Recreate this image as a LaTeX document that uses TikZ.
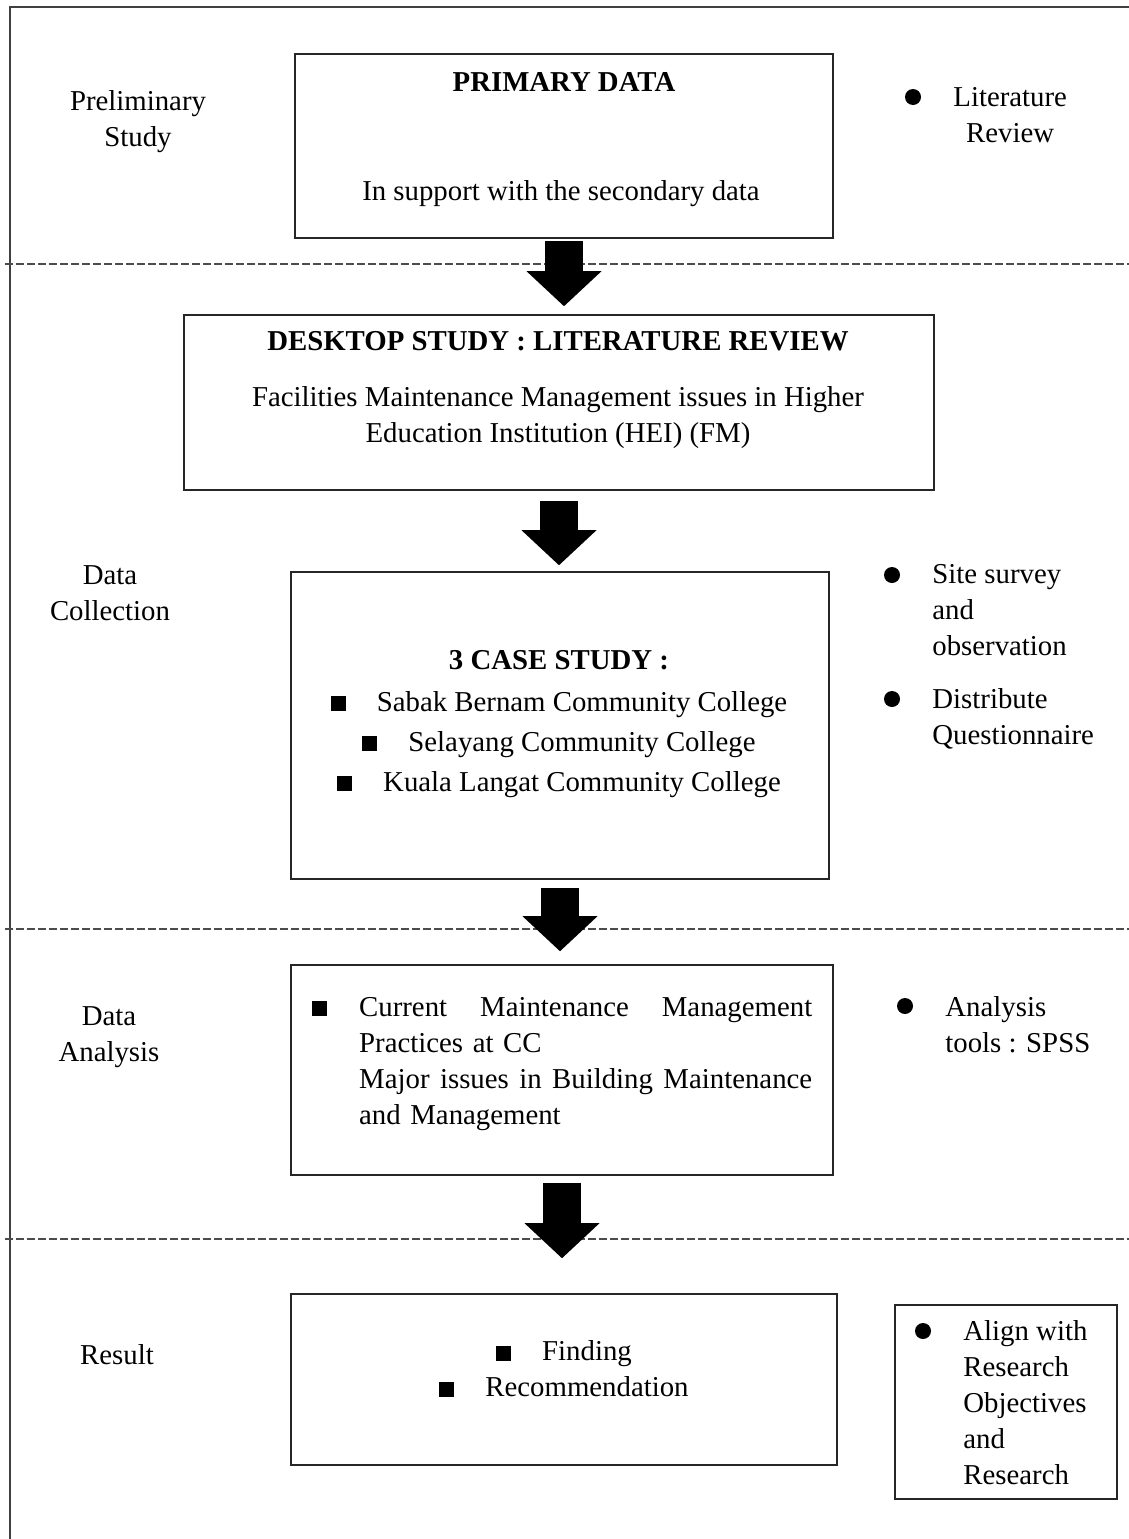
\documentclass[tikz,border=0pt]{standalone}
\usepackage{fontspec}
\setmainfont{Liberation Serif}
\usetikzlibrary{positioning,arrows.meta}

\newcommand{\sqbul}{\rule{15pt}{15pt}\hspace{31pt}}

\begin{document}
\begin{tikzpicture}[x=1pt, y=-1pt,
  every node/.style={inner sep=0pt, font=\fontsize{28.8}{36}\selectfont},
  main/.style={draw=black!85, line width=1.6pt},
  dot/.style={circle, fill, minimum size=16pt},
  bigarrow/.style={line width=38pt, -{Triangle[length=35pt, width=75pt, line width=0pt]}},
  sep/.style={draw=black!70, line width=1.8pt, dash pattern=on 8pt off 3pt}]
\useasboundingbox (0,0) rectangle (1129,1539);
% frame and separators
\draw[black!75, line width=2pt] (1129,7) -- (10,7) -- (10,1539);
\draw[sep] (5,264) -- (1129,264);
\draw[sep] (5,929) -- (1129,929);
\draw[sep] (5,1239) -- (1129,1239);

% boxes
\node[main, minimum width=538, minimum height=184] (1) at (564,146) {};
\node (1a) at (564,82) {\textbf{PRIMARY DATA}};
\node (1b) at (561,194) {In support with the secondary data};

\node[main, minimum width=750, minimum height=175] (2) at (559,402.5) {};
\node (2a) at (558,341) {\textbf{DESKTOP STUDY : LITERATURE REVIEW}};
\node[align=center] (2b) at (558,418) {Facilities Maintenance Management issues in Higher\\Education Institution (HEI) (FM)};

\node[main, minimum width=538, minimum height=307] (3) at (560,725.5) {};
\node[align=center, font=\fontsize{28.8}{40}\selectfont] (3a) at (559,724)
  {\textbf{3 CASE STUDY :}\\[2pt]\sqbul Sabak Bernam Community College\\ \sqbul Selayang Community College\\ \sqbul Kuala Langat Community College};

\node[main, minimum width=542, minimum height=210] (4) at (562,1070) {};
\node[text width=453, align=left, anchor=west] (4a) at (359,1064)
  {\llap{\rule{15pt}{15pt}\hspace{32pt}}Current\hfill Maintenance\hfill Management\\Practices at CC\\Major\hfill\ issues\hfill\ in\hfill\ Building\hfill\ Maintenance\\and Management};

\node[main, minimum width=546, minimum height=171] (5) at (564,1379.5) {};
\node[align=center] (5a) at (564,1369) {\sqbul Finding\\ \sqbul Recommendation};

\node[main, minimum width=222, minimum height=194] (6) at (1006,1402) {};
\node[dot] (6b) at (923,1331) {};
\node[align=left, right=32pt of 6b, anchor=north west, yshift=11pt] (6a) {Align with\\Research\\Objectives\\and\\Research};

% phase labels
\node[align=center] (7) at (138,122) {Preliminary\\Study};
\node[align=center] (8) at (110,593) {Data\\Collection};
\node[align=center] (9) at (109,1037) {Data\\Analysis};
\node (10) at (117,1355) {Result};

% side notes
\node[dot] (11b) at (913,97) {};
\node[align=center, right=32pt of 11b, anchor=north west, yshift=10pt] (11) {Literature\\Review};
\node[dot] (12b) at (892,575) {};
\node[align=left, right=32pt of 12b, anchor=north west, yshift=11pt] (12) {Site survey\\and\\observation};
\node[dot] (13b) at (892,699) {};
\node[align=left, right=32pt of 13b, anchor=north west, yshift=11pt] (13) {Distribute\\Questionnaire};
\node[dot] (14b) at (905,1006) {};
\node[align=left, right=32pt of 14b, anchor=north west, yshift=10pt] (14) {Analysis\\tools : SPSS};

% block arrows
\draw[bigarrow, shorten <=2pt, shorten >=8pt] (1.south) -- (1.south |- 2.north);
\draw[bigarrow, shorten <=10pt, shorten >=6pt] (2.south) -- (2.south |- 3.north);
\draw[bigarrow, shorten <=8pt, shorten >=13pt] (3.south) -- (3.south |- 4.north);
\draw[bigarrow, shorten <=7pt, shorten >=35pt] (4.south) -- (4.south |- 5.north);
\end{tikzpicture}
\end{document}
